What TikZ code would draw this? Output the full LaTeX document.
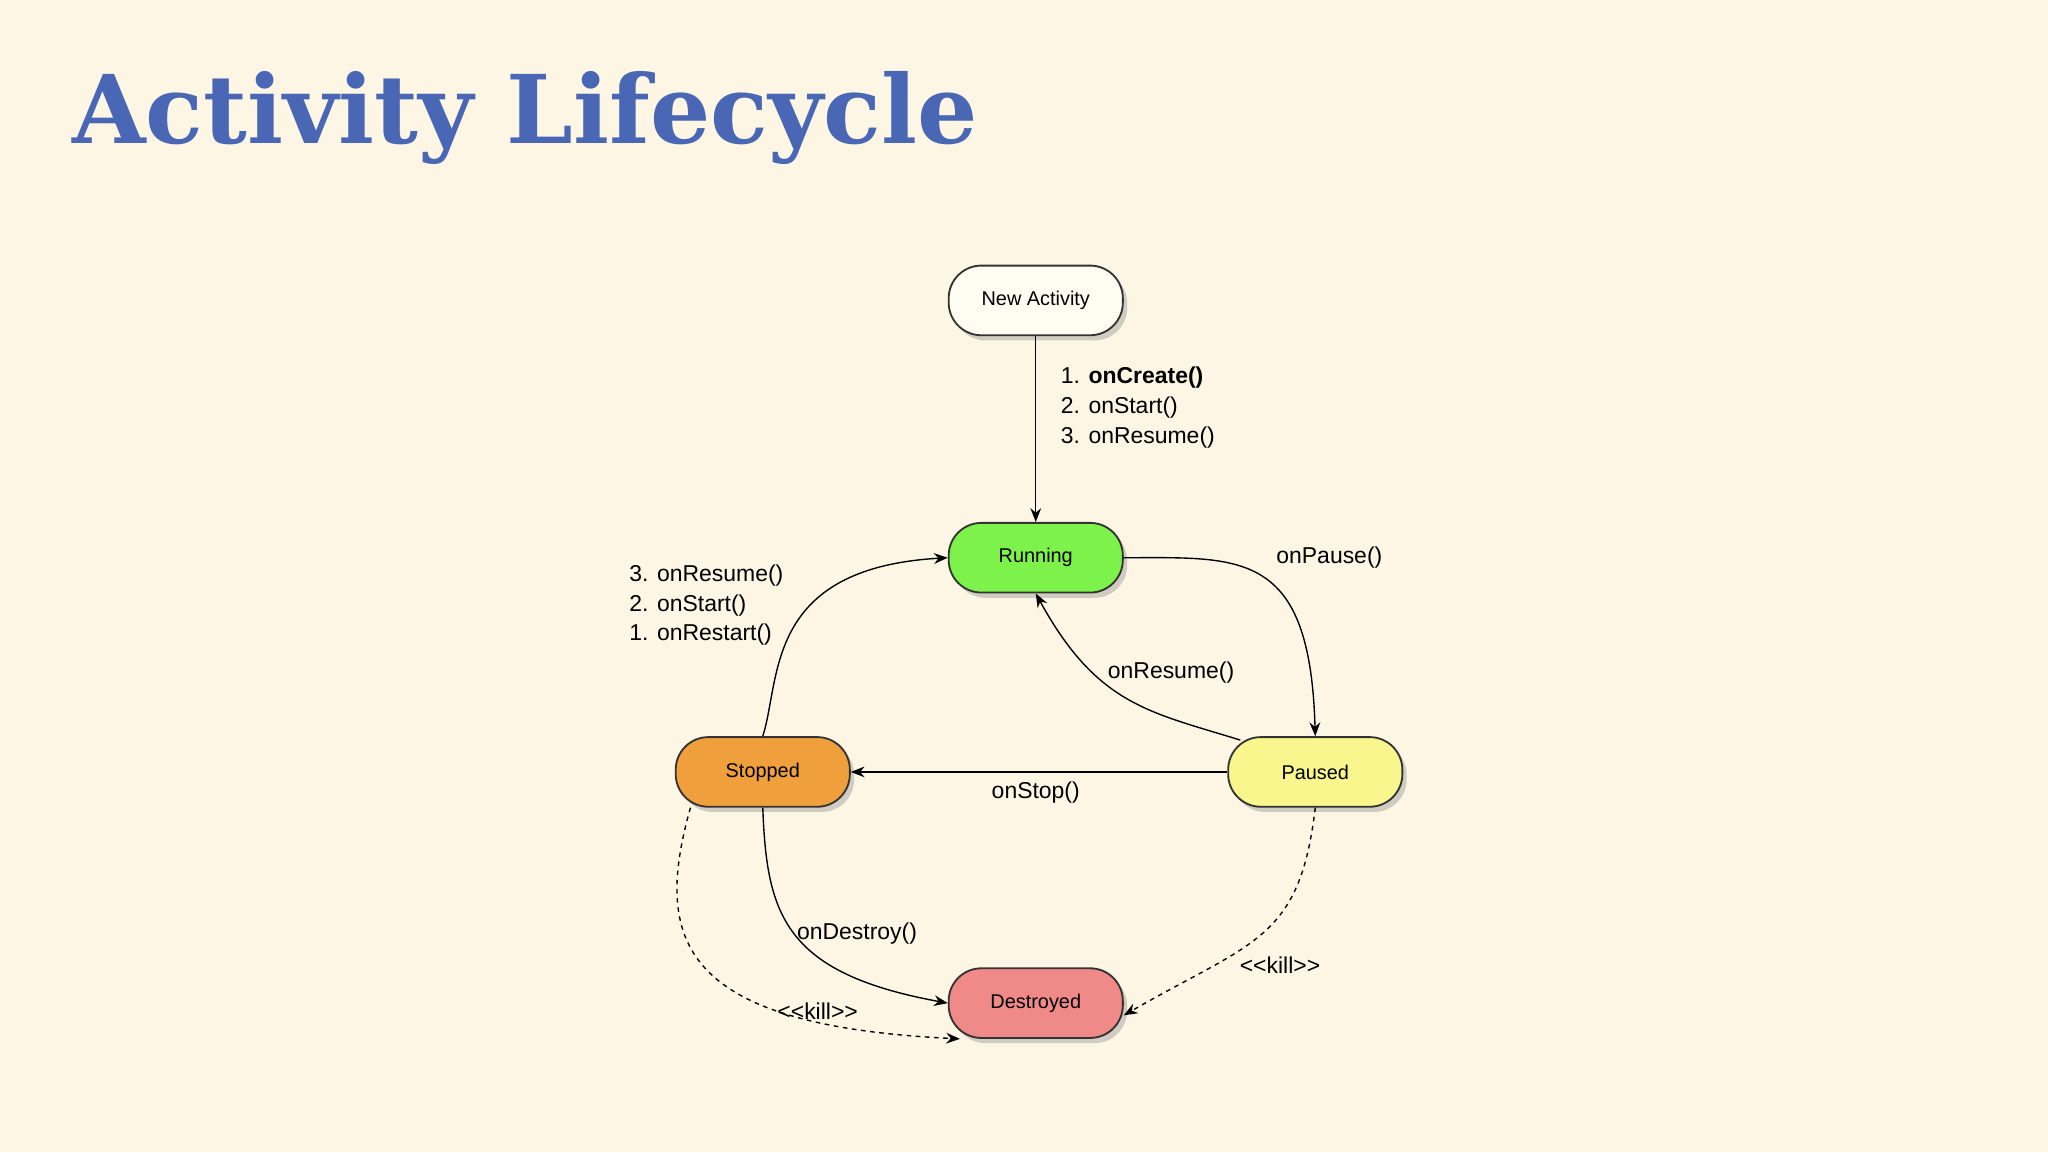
\documentclass[tikz,border=0pt]{standalone}
\usepackage{fontspec}
\setmainfont{Liberation Sans}
\newfontfamily\titlefont{DejaVu Serif}
\usetikzlibrary{arrows.meta,shadows}
\definecolor{bg}{HTML}{FDF6E4}
\definecolor{ttl}{HTML}{4A67B5}
\definecolor{cRun}{HTML}{7CF24A}
\definecolor{cPau}{HTML}{F8F68C}
\definecolor{cSto}{HTML}{EFA03C}
\definecolor{cDes}{HTML}{EF8A88}
\definecolor{cNew}{HTML}{FFFCF2}
\tikzset{
 state/.style={draw=black!80,line width=1.2pt,rounded corners=0.75cm,minimum width=4.0cm,minimum height=1.6cm,font=\fontsize{13}{15}\selectfont,drop shadow={shadow xshift=0.1cm,shadow yshift=-0.12cm,opacity=0.35}},
 conn/.style={line width=0.9pt,-{Stealth[length=9pt,width=7pt]}},
 kill/.style={conn,dashed},
 lbl/.style={font=\fontsize{15}{19.5}\selectfont,inner sep=0pt}
}
\newcommand{\killtxt}{{<}{<}kill{>}{>}}
\begin{document}
\begin{tikzpicture}[x=0.03cm,y=-0.03cm]
\fill[bg] (0,0) rectangle (1568,882);
\useasboundingbox (0,0) rectangle (1568,882);
\node[anchor=west,text=ttl,font=\titlefont\bfseries\fontsize{62}{66}\selectfont,inner sep=0pt] (title) at (55,90) {Activity Lifecycle};
\node[state,fill=cNew] (new) at (793,230) {New Activity};
\node[state,fill=cRun] (run) at (793,427) {Running};
\node[state,fill=cPau] (pau) at (1007,591) {Paused};
\node[state,fill=cSto] (sto) at (584,591) {Stopped};
\node[state,fill=cDes] (des) at (793,768) {Destroyed};
\draw[conn] (new) -- (run);
\node[lbl,anchor=north west,align=left] (l1) at (812,281) {1. \textbf{onCreate()}\\2. onStart()\\3. onResume()};
\draw[conn] (run.east) .. controls (950,427) and (1003,420) .. (pau.north);
\node[lbl,anchor=west] (l2) at (977,427) {onPause()};
\draw[conn] (pau.north west) ++(10,3) coordinate (pr) (pr) .. controls (880,545) and (840,540) .. (run.south);
\node[lbl,anchor=west] (l3) at (848,515) {onResume()};
\draw[conn] (pau.west) -- (sto.east);
\node[lbl] (l4) at (793,607) {onStop()};
\draw[conn] (sto.north) .. controls (598,520) and (585,435) .. (run.west);
\node[lbl,anchor=north east,align=left] (l5) at (600,432) {3. onResume()\\2. onStart()\\1. onRestart()};
\draw[conn] (sto.south) .. controls (587,700) and (600,745) .. (des.west);
\node[lbl,anchor=west] (l6) at (610,715) {onDestroy()};
\draw[kill] (sto.south west) ++(12,0) coordinate (sk) (sk) .. controls (500,720) and (520,785) .. ([xshift=8]des.south west);
\node[lbl] (l7) at (626,774) {\killtxt};
\draw[kill] (pau.south) .. controls (995,720) and (960,720) .. ([yshift=-8]des.east);
\node[lbl] (l8) at (980,739) {\killtxt};
\end{tikzpicture}
\end{document}
